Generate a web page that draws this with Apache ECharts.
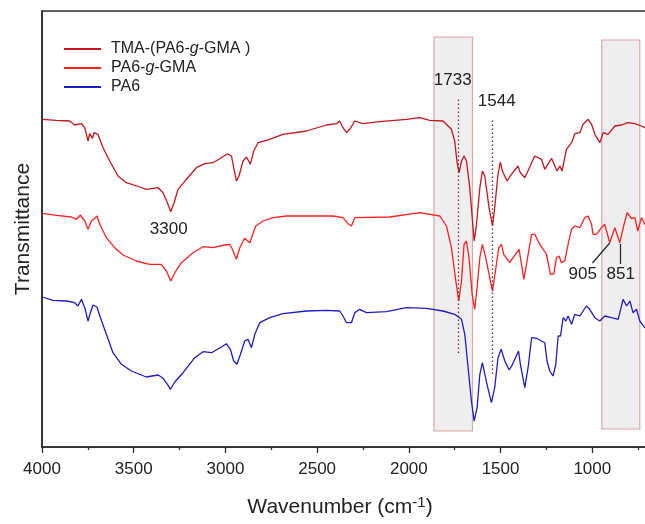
<!DOCTYPE html>
<html>
<head>
<meta charset="utf-8">
<script src="https://cdn.jsdelivr.net/npm/echarts@6/dist/echarts.min.js"></script>
<style>
  html, body { margin: 0; padding: 0; background: #fff; }
  #chart_ftir { width: 645px; height: 524px; }
</style>
</head>
<body>
<div id="chart_ftir"></div>
<script>
// wavenumber (cm-1), transmittance (offset, arbitrary units)
var tmaData = [
  [3998, 327.7], [3921, 326.7], [3849, 326], [3822, 322], [3785, 323.3], [3767, 319.3],
  [3749, 306], [3740, 313.3], [3725, 308.7], [3716, 314.3], [3695, 312.7], [3667, 299.3],
  [3631, 286], [3586, 271], [3540, 264.3], [3467, 260], [3431, 257.7], [3367, 259.3],
  [3340, 254.3], [3313, 242.7], [3298, 235.3], [3280, 244.3], [3258, 257.7], [3213, 267.7],
  [3158, 279.3], [3113, 283.3], [3068, 284.3], [3022, 289.3], [2989, 293.3], [2967, 291],
  [2955, 279.3], [2940, 266], [2926, 271], [2904, 286], [2885, 290], [2864, 282.7],
  [2846, 296], [2822, 304.3], [2776, 306.7], [2686, 312.7], [2558, 316], [2449, 322],
  [2395, 323.3], [2377, 326], [2359, 319.3], [2340, 314.3], [2322, 317.7], [2295, 326],
  [2250, 323.3], [2159, 325.3], [2013, 327.7], [1941, 329.3], [1886, 326.7], [1814, 326],
  [1768, 317.7], [1750, 306], [1737, 284.3], [1726, 274.3], [1713, 286], [1699, 291],
  [1686, 286], [1668, 259.3], [1653, 226], [1644, 206], [1631, 222.7], [1613, 259.3],
  [1599, 276], [1586, 271], [1563, 239.3], [1544, 221], [1532, 239.3], [1514, 272.7],
  [1501, 285], [1490, 276], [1465, 266], [1441, 272.7], [1405, 281], [1392, 274.3],
  [1368, 269.3], [1341, 280], [1314, 291], [1277, 287.7], [1259, 277.7], [1222, 288.7],
  [1204, 281], [1192, 276], [1177, 281], [1165, 276], [1141, 297.7], [1113, 304.3],
  [1095, 313.3], [1068, 314.3], [1050, 322.7], [1023, 327.7], [1004, 322.7], [986, 312.7],
  [959, 304.3], [941, 314.3], [914, 312.7], [877, 321], [841, 322], [805, 324.3],
  [768, 323.3], [732, 321], [714, 319.3], [700, 318]
];
var graftData = [
  [3998, 233.7], [3921, 231.7], [3840, 230], [3812, 227.7], [3791, 232], [3767, 226],
  [3749, 217.7], [3731, 226], [3718, 227.7], [3700, 231], [3685, 222.7], [3649, 209.3],
  [3604, 199.3], [3558, 192], [3485, 186], [3413, 182.7], [3349, 182.7], [3322, 176],
  [3298, 166], [3276, 174.3], [3240, 184.3], [3177, 194.3], [3122, 200.3], [3068, 199.3],
  [3004, 202], [2977, 202.7], [2962, 197.7], [2940, 187.7], [2922, 199.3], [2895, 208.7],
  [2867, 204.3], [2835, 221], [2795, 226], [2740, 229.3], [2667, 231], [2413, 231],
  [2359, 229.3], [2332, 223.3], [2313, 221], [2295, 229.3], [2104, 230], [1941, 234.3],
  [1831, 231], [1795, 221], [1768, 199.3], [1744, 166], [1728, 146], [1713, 166],
  [1699, 202.7], [1686, 206], [1672, 189.3], [1655, 152.7], [1641, 137.7], [1628, 159.3],
  [1613, 189.3], [1599, 202.7], [1581, 189.3], [1559, 169.3], [1544, 156], [1528, 176],
  [1510, 199.3], [1495, 202.7], [1483, 192.7], [1450, 184.3], [1432, 189.3], [1399, 197.7],
  [1373, 167.7], [1352, 190], [1331, 212.7], [1314, 212.7], [1286, 202.7], [1250, 193],
  [1228, 172.7], [1210, 173], [1195, 189.3], [1181, 191], [1168, 184.3], [1150, 186],
  [1132, 202.7], [1113, 217.7], [1095, 221], [1068, 219.3], [1041, 229.3], [1023, 231],
  [1004, 222.7], [996, 212.7], [977, 212.7], [950, 219.3], [932, 222.7], [905, 204.3],
  [877, 219.3], [850, 204.3], [829, 221], [810, 234.3], [786, 228.5], [768, 229.3],
  [752, 216], [732, 229.3], [714, 222.7], [700, 222]
];
var pa6Data = [
  [3998, 150], [3940, 146.7], [3867, 146], [3822, 144.3], [3804, 141], [3785, 147.7],
  [3767, 139.3], [3749, 126], [3736, 134.3], [3722, 142], [3700, 140], [3685, 131],
  [3649, 112.7], [3613, 94.3], [3567, 82.7], [3513, 76], [3431, 70], [3367, 72],
  [3340, 68.7], [3316, 62.7], [3300, 57.7], [3276, 65], [3231, 74.3], [3167, 89.3],
  [3122, 95.3], [3076, 94.3], [3022, 100], [2995, 103.3], [2973, 97.7], [2955, 86],
  [2937, 82.7], [2918, 92.7], [2895, 106], [2877, 107.7], [2858, 99.3], [2840, 112.7],
  [2813, 124.3], [2758, 129.3], [2686, 133.3], [2558, 136], [2449, 136.7], [2377, 136],
  [2359, 131], [2340, 124.3], [2313, 124.3], [2295, 134.3], [2268, 137.7], [2231, 134.3],
  [2122, 135.3], [2013, 139.3], [1904, 138.7], [1814, 136], [1750, 132.7], [1713, 127.7],
  [1695, 112.7], [1677, 79.3], [1659, 46], [1644, 26], [1628, 39.3], [1613, 72.7],
  [1599, 84.3], [1590, 82.7], [1574, 62.7], [1550, 44.3], [1532, 59.3], [1514, 89.3],
  [1497, 97.7], [1477, 86], [1453, 77], [1435, 82.7], [1402, 96], [1392, 82.7],
  [1368, 59.3], [1350, 79.3], [1331, 109.3], [1304, 108.7], [1259, 104.3], [1247, 86],
  [1232, 76], [1214, 71], [1199, 82.7], [1186, 111], [1173, 111], [1159, 129.3],
  [1144, 126], [1132, 131], [1113, 122.7], [1095, 132.7], [1068, 131], [1032, 141],
  [1014, 137.7], [986, 129.3], [959, 126], [932, 131], [895, 129.3], [859, 127.7],
  [832, 147.7], [813, 141], [795, 146], [778, 134.3], [759, 137.7], [741, 126],
  [714, 119.3], [700, 118]
];
var seriesNames = ['TMA-(PA6-g-GMA )', 'PA6-g-GMA', 'PA6'];
var seriesColors = ['#c4161c', '#ff1f1f', '#1c1cc4'];

// shaded regions [from, to] in cm-1
var bands = [[1863, 1653], [948, 741]];
// dotted marker lines at peak positions
var peakLines = [[1733, 94, 350], [1544, 73, 328]];
// annotation text [label, wavenumber, y]
var annoLabels = [['1733', 1761, 367], ['1544', 1521, 346], ['3300', 3309, 218], ['905', 1052, 173], ['851', 845, 173]];
// leader lines for 905 / 851
var leaders = [[[999, 184], [905, 204]], [[850, 183], [850, 203]]];

var myChart = echarts.init(document.getElementById('chart_ftir'));
var font = 'Liberation Sans, Arial, sans-serif';

var option = {
  animation: false,
  backgroundColor: '#fff',
  grid: {
    left: 42,
    right: -39,
    top: 11,
    bottom: 77,
    containLabel: false,
    outerBoundsMode: 'none',
    show: true,
    borderColor: '#2b2b2b',
    borderWidth: 1.5
  },
  legend: {
    data: seriesNames,
    orient: 'vertical',
    left: 64,
    top: 41,
    padding: 0,
    itemWidth: 37,
    itemHeight: 2,
    itemGap: 3,
    icon: 'rect',
    formatter: function(name) {
      return name.replace(/-g-/, '-{i|g}-');
    },
    textStyle: {
      fontFamily: font,
      fontSize: 16,
      lineHeight: 16,
      color: '#222',
      padding: [0, 0, 0, 5],
      rich: {
        i: { fontFamily: font, fontSize: 16, lineHeight: 16, fontStyle: 'italic', color: '#222' }
      }
    }
  },
  xAxis: {
    type: 'value',
    inverse: true,
    min: 500,
    max: 4000,
    interval: 500,
    name: 'Wavenumber (cm{sup|-1})',
    nameLocation: 'middle',
    nameGap: 48,
    nameTextStyle: {
      fontFamily: font,
      fontSize: 21,
      color: '#222',
      padding: [0, 46, 0, 0],
      rich: {
        sup: { fontFamily: font, fontSize: 15, color: '#222', verticalAlign: 'top', padding: [0, 0, 10, 0] }
      }
    },
    axisLine: { show: true, onZero: false, lineStyle: { color: '#2b2b2b', width: 1.5 } },
    axisTick: { show: true, length: 6, lineStyle: { color: '#2b2b2b', width: 1.3 } },
    minorTick: { show: true, splitNumber: 2, length: 3, lineStyle: { color: '#2b2b2b', width: 1.3 } },
    splitLine: { show: false },
    axisLabel: {
      fontFamily: font,
      fontSize: 17,
      color: '#222',
      margin: 14,
      formatter: function(v) { return String(v); }
    }
  },
  yAxis: {
    type: 'value',
    min: 0,
    max: 436,
    name: 'Transmittance',
    nameLocation: 'middle',
    nameGap: 8,
    nameTextStyle: { fontFamily: font, fontSize: 21, color: '#222' },
    axisLine: { show: true, lineStyle: { color: '#2b2b2b', width: 1.5 } },
    axisTick: { show: false },
    axisLabel: { show: false },
    splitLine: { show: false }
  },
  series: [
    {
      // backdrop: shaded bands, peak markers and annotations
      name: 'marks',
      type: 'line',
      data: [],
      z: 1,
      markArea: {
        silent: true,
        itemStyle: { color: '#eeeeee', borderColor: '#d8a8a8', borderWidth: 1.2 },
        data: [
          [{ coord: [bands[0][0], 410] }, { coord: [bands[0][1], 16] }],
          [{ coord: [bands[1][0], 407] }, { coord: [bands[1][1], 18] }]
        ]
      },
      markLine: {
        silent: true,
        symbol: 'none',
        label: { show: false },
        lineStyle: { color: '#7a2a2a', type: [1.5, 2.5], width: 1.3 },
        data: peakLines.map(function(p) {
          return [{ coord: [p[0], p[1]] }, { coord: [p[0], p[2]] }];
        }).concat(leaders.map(function(l) {
          return [{ coord: l[0], lineStyle: { color: '#222', type: 'solid', width: 1.2 } }, { coord: l[1], lineStyle: { color: '#222', type: 'solid', width: 1.2 } }];
        }))
      },
      markPoint: {
        silent: true,
        symbol: 'rect',
        symbolSize: 1,
        itemStyle: { color: 'rgba(0,0,0,0)' },
        label: { show: true, position: 'inside', formatter: '{b}', fontFamily: font, fontSize: 17, color: '#222' },
        data: annoLabels.map(function(a) {
          return { name: a[0], coord: [a[1], a[2]] };
        })
      }
    },
    {
      name: seriesNames[0],
      type: 'line',
      z: 3,
      showSymbol: false,
      data: tmaData,
      lineStyle: { color: seriesColors[0], width: 1.3 },
      itemStyle: { color: seriesColors[0] }
    },
    {
      name: seriesNames[1],
      type: 'line',
      z: 3,
      showSymbol: false,
      data: graftData,
      lineStyle: { color: seriesColors[1], width: 1.3 },
      itemStyle: { color: seriesColors[1] }
    },
    {
      name: seriesNames[2],
      type: 'line',
      z: 3,
      showSymbol: false,
      data: pa6Data,
      lineStyle: { color: seriesColors[2], width: 1.3 },
      itemStyle: { color: seriesColors[2] }
    }
  ]
};
myChart.setOption(option);
</script>
</body>
</html>
